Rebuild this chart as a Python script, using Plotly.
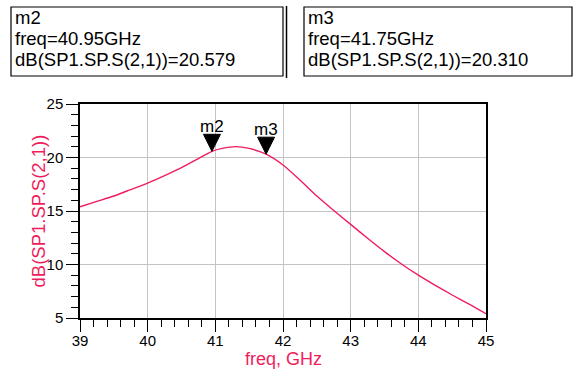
import plotly.graph_objects as go

# S21 sweep of the amplifier, 39-45 GHz
freq_ghz = [39.0, 39.25, 39.5, 39.75, 40.0, 40.25, 40.5, 40.75, 40.95, 41.1,
            41.3, 41.5, 41.75, 42.0, 42.25, 42.5, 42.75, 43.0, 43.25, 43.5,
            43.75, 44.0, 44.25, 44.5, 44.75, 45.0]
s21_db = [15.4, 15.9, 16.4, 17.0, 17.6, 18.3, 19.05, 19.9, 20.579, 20.85,
          21.02, 20.85, 20.31, 19.3, 17.9, 16.4, 15.05, 13.75, 12.45, 11.2,
          10.05, 9.0, 8.05, 7.15, 6.3, 5.4]

# marker readouts
marker_names = ["m2", "m3"]
marker_freq = [40.95, 41.75]
marker_db = [20.579, 20.310]

x_ticks = [39, 40, 41, 42, 43, 44, 45]
y_ticks = [5, 10, 15, 20, 25]

W, H = 574, 383
ML, MR, MT, MB = 80, 88, 104, 65
PW, PH = W - ML - MR, H - MT - MB

TRACE = "#f01c5c"
FONT = "Liberation Sans, Arial, sans-serif"


def px_x(px):
    return (px - ML) / PW


def px_y(py):
    return (H - MB - py) / PH


fig = go.Figure()
fig.add_trace(go.Scatter(x=freq_ghz, y=s21_db, mode="lines",
                         line=dict(color=TRACE, width=1.4, shape="spline", smoothing=0.6),
                         hoverinfo="skip", showlegend=False))

shapes = []
annotations = []

# marker triangles (tip on the trace) and their names
for name, f, v in zip(marker_names, marker_freq, marker_db):
    shapes.append(dict(type="path", xref="x", yref="y", xsizemode="pixel", ysizemode="pixel",
                       xanchor=f, yanchor=v, path="M-8.5,17 L8.5,17 L0,0 Z",
                       fillcolor="black", line=dict(color="black", width=1)))
    annotations.append(dict(x=f, y=v, xref="x", yref="y", text=name, showarrow=False,
                            yshift=25, font=dict(family=FONT, size=17, color="black")))

# readout boxes
boxes = [(11, 283, 7, 76), (304, 572, 7, 76)]
for (x0, x1, y0, y1) in boxes:
    shapes.append(dict(type="rect", xref="paper", yref="paper",
                       x0=px_x(x0), x1=px_x(x1), y0=px_y(y1), y1=px_y(y0),
                       line=dict(color="black", width=1.2), fillcolor="white", layer="above"))
# double edge on the right side of the first box
shapes.append(dict(type="line", xref="paper", yref="paper",
                   x0=px_x(286.5), x1=px_x(286.5), y0=px_y(78), y1=px_y(6),
                   line=dict(color="black", width=1.5)))

line_centres = [17, 38.5, 60]
for (x0, x1, y0, y1), name, f, v in zip(boxes, marker_names, marker_freq, marker_db):
    lines = [name, f"freq={f:.2f}GHz", f"dB(SP1.SP.S(2,1))={v:.3f}"]
    for txt, yc in zip(lines, line_centres):
        annotations.append(dict(x=px_x(x0 + 2), y=px_y(yc), xref="paper", yref="paper",
                                xanchor="left", yanchor="middle", align="left", text=txt,
                                showarrow=False,
                                font=dict(family=FONT, size=18.5, color="black")))

# axis titles
annotations.append(dict(x=px_x(283), y=px_y(371), xref="paper", yref="paper",
                        text="freq, GHz", showarrow=False,
                        font=dict(family=FONT, size=18, color=TRACE)))
annotations.append(dict(x=px_x(25), y=px_y(211), xref="paper", yref="paper",
                        text="dB(SP1.SP.S(2,1))", showarrow=False, textangle=-90,
                        font=dict(family=FONT, size=18.5, color=TRACE)))

fig.update_layout(
    width=W, height=H,
    margin=dict(l=ML, r=MR, t=MT, b=MB),
    paper_bgcolor="white", plot_bgcolor="white",
    shapes=shapes, annotations=annotations,
    font=dict(family=FONT, size=14, color="black"),
    xaxis=dict(range=[39, 45], tickvals=x_ticks, ticks="outside", ticklen=12, tickwidth=1.2,
               tickcolor="black", showline=True, linecolor="black", linewidth=1.5, mirror=True,
               showgrid=True, gridcolor="#c4c4c4", gridwidth=1, zeroline=False,
               ticklabelstandoff=-4,
               minor=dict(dtick=0.2, ticks="outside", ticklen=7, tickcolor="black", showgrid=False),
               tickfont=dict(family=FONT, size=15)),
    yaxis=dict(range=[5, 25], tickvals=y_ticks, ticks="outside", ticklen=12, tickwidth=1.2,
               tickcolor="black", showline=True, linecolor="black", linewidth=1.5, mirror=True,
               showgrid=True, gridcolor="#c4c4c4", gridwidth=1, zeroline=False,
               minor=dict(dtick=1, ticks="outside", ticklen=7, tickcolor="black", showgrid=False),
               tickfont=dict(family=FONT, size=15)),
)

fig.write_html("out.html")
